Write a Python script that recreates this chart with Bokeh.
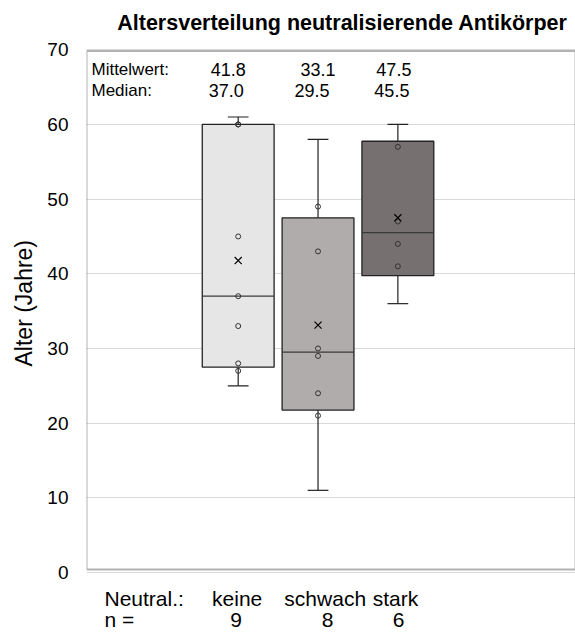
import numpy as np
from bokeh.plotting import figure
from bokeh.models import Range1d, ColumnDataSource, FixedTicker, BoxAnnotation, Title
from bokeh.embed import file_html
from bokeh.resources import INLINE
from bokeh.core.properties import value

# ---------------- data ----------------
groups = ["keine", "schwach", "stark"]
ages_keine = [25, 27, 28, 33, 37, 45, 60, 60, 61]
ages_schwach = [11, 21, 24, 29, 30, 43, 49, 58]
ages_stark = [36, 41, 44, 47, 57, 60]
fill_colors = ["#e6e6e6", "#b0acab", "#767170"]
y_ticks = [0, 10, 20, 30, 40, 50, 60, 70]
title_text = "Altersverteilung neutralisierende Antikörper"
y_label = "Alter (Jahre)"
row_mean_label = "Mittelwert:"
row_median_label = "Median:"
row_group_label = "Neutral.:"
row_n_label = "n ="

# ---------------- layout constants ----------------
FONT = "Liberation Sans"
xs = [1, 2, 3]
BOX_W = 0.9
CAP_W = 0.26
mean_dx = [-0.125, 0.0, -0.05]
median_dx = [-0.15, -0.075, -0.075]
group_dx = [-0.0125, 0.09, -0.03]
n_dx = [-0.025, 0.12, 0.01]
STATS_X = -0.8375
ROWS_X = -0.675
Y_MEAN, Y_MEDIAN = 67.4, 64.5
Y_GROUP, Y_N = -3.45, -6.35
TITLE_X, TITLE_Y = 2.306, 73.6

data = [ages_keine, ages_schwach, ages_stark]
q1, med, q3, lo, hi, mean = [], [], [], [], [], []
for d in data:
    a = np.array(d, dtype=float)
    q1.append(float(np.percentile(a, 25, method="weibull")))
    med.append(float(np.median(a)))
    q3.append(float(np.percentile(a, 75, method="weibull")))
    lo.append(float(a.min()))
    hi.append(float(a.max()))
    mean.append(float(a.mean()))

p = figure(width=575, height=632, output_backend="svg", toolbar_location=None,
           x_range=Range1d(-0.9, 5.225), y_range=Range1d(-8.04, 76.6),
           min_border_left=85, min_border_right=0, min_border_top=0, min_border_bottom=0)
p.title = None
p.outline_line_color = None
p.xaxis.visible = False
p.xgrid.grid_line_color = None
p.ygrid.grid_line_color = "#d9d9d9"
p.ygrid.ticker = FixedTicker(ticks=y_ticks)
ya = p.yaxis[0]
ya.ticker = FixedTicker(ticks=y_ticks)
ya.axis_line_color = None
ya.major_tick_line_color = None
ya.minor_tick_line_color = None
ya.major_label_standoff = 12
ya.major_label_text_font = FONT
ya.major_label_text_font_size = "19px"
ya.major_label_text_color = "black"
ya.axis_label = None

p.add_layout(Title(text=y_label, align="left", offset=266, standoff=16,
                   text_font=FONT, text_font_size="23px", text_font_style="normal",
                   text_color="black"), "left")

# frame box of the chart area
p.add_layout(BoxAnnotation(bottom=0.4, top=69.85, fill_alpha=0, line_color="black",
                           line_width=2, level="underlay"))

# whiskers
src = ColumnDataSource(dict(x=xs, q1=q1, q3=q3, med=med, lo=lo, hi=hi, mean=mean,
                            color=fill_colors))
p.segment(x0="x", y0="lo", x1="x", y1="q1", source=src, line_color="#222222", line_width=1.2)
p.segment(x0="x", y0="q3", x1="x", y1="hi", source=src, line_color="#222222", line_width=1.2)
cap_l = [x - CAP_W / 2 for x in xs]
cap_r = [x + CAP_W / 2 for x in xs]
p.segment(x0=cap_l, y0=lo, x1=cap_r, y1=lo, line_color="#222222", line_width=1.2)
p.segment(x0=cap_l, y0=hi, x1=cap_r, y1=hi, line_color="#222222", line_width=1.2)
# boxes
p.vbar(x="x", width=BOX_W, bottom="q1", top="q3", source=src, fill_color="color",
       line_color="#222222", line_width=1.3)
box_l = [x - BOX_W / 2 for x in xs]
box_r = [x + BOX_W / 2 for x in xs]
p.segment(x0=box_l, y0=med, x1=box_r, y1=med, line_color="#3a3a3a", line_width=1.3)

# inner points
px, py = [], []
for x, d in zip(xs, data):
    s = sorted(d)[1:-1]
    px += [x] * len(s)
    py += s
p.scatter(px, py, marker="circle", size=5, fill_alpha=0, line_color="#333333", line_width=1)
# means
p.scatter(xs, mean, marker="x", size=10, line_color="black", line_width=1.2)


def txt(x, y, t, size, align, bold=False):
    p.text(x=x, y=y, text=t, text_font=value(FONT), text_font_size=size,
           text_font_style="bold" if bold else "normal",
           text_baseline="alphabetic", text_align=align, text_color="black")


# title
txt([TITLE_X], [TITLE_Y], [title_text], "21.5px", "center", bold=True)
# stats rows
txt([STATS_X], [Y_MEAN], [row_mean_label], "17px", "left")
txt([STATS_X], [Y_MEDIAN], [row_median_label], "17px", "left")
txt([x + d for x, d in zip(xs, mean_dx)], [Y_MEAN] * 3, [f"{m:.1f}" for m in mean], "18px", "center")
txt([x + d for x, d in zip(xs, median_dx)], [Y_MEDIAN] * 3, [f"{m:.1f}" for m in med], "18px", "center")
# bottom rows
txt([ROWS_X], [Y_GROUP], [row_group_label], "21px", "left")
txt([ROWS_X], [Y_N], [row_n_label], "21px", "left")
txt([x + d for x, d in zip(xs, group_dx)], [Y_GROUP] * 3, groups, "21px", "center")
txt([x + d for x, d in zip(xs, n_dx)], [Y_N] * 3, [str(len(d)) for d in data], "21px", "center")

open("out.html", "w").write(file_html(p, INLINE))
